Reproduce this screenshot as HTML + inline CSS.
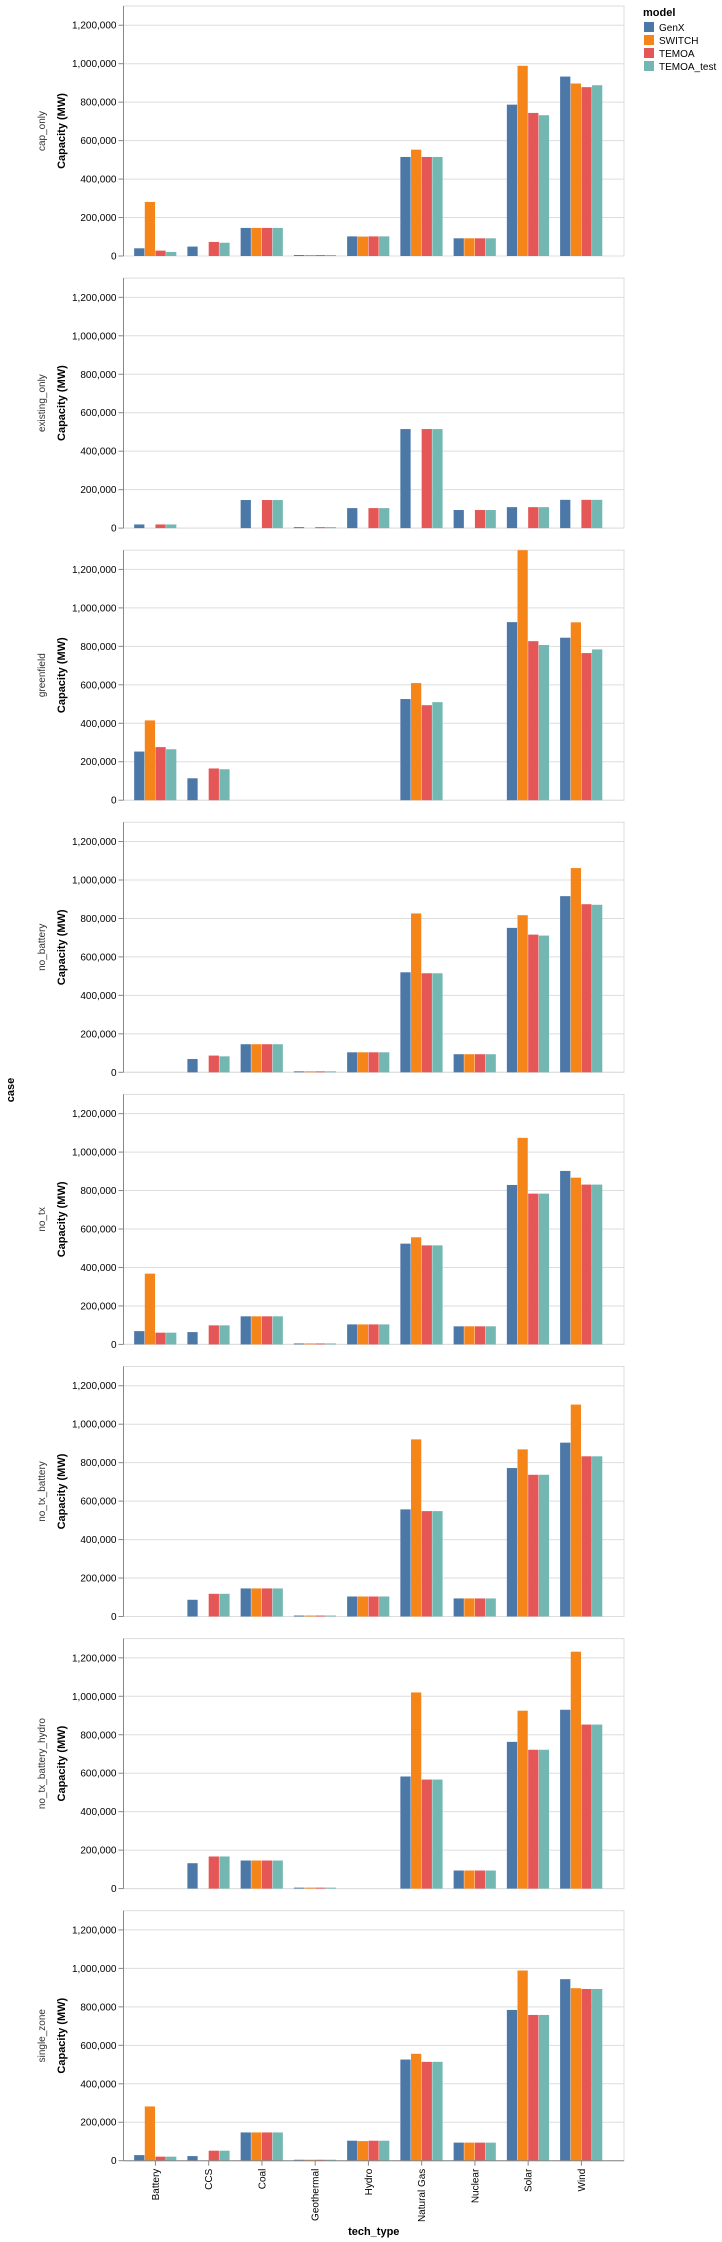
<!DOCTYPE html>
<html><head><meta charset="utf-8"><style>
html,body{margin:0;padding:0;background:#fff;}
svg{display:block;font-family:"Liberation Sans",Arial,sans-serif;}
</style></head><body>
<svg id="chart" width="722" height="2242" viewBox="0 0 722 2242" xmlns="http://www.w3.org/2000/svg"></svg>
<script>
const categories = ["Battery","CCS","Coal","Geothermal","Hydro","Natural Gas","Nuclear","Solar","Wind"];
const models = ["GenX","SWITCH","TEMOA","TEMOA_test"];
const colors = ["#4c78a8","#f58518","#e45756","#72b7b2"];
const cases = ["cap_only","existing_only","greenfield","no_battery","no_tx","no_tx_battery","no_tx_battery_hydro","single_zone"];
const yTicks = [0,200000,400000,600000,800000,1000000,1200000];
const yTickLabels = ["0","200,000","400,000","600,000","800,000","1,000,000","1,200,000"];
// values in MW, per case: [GenX, SWITCH, TEMOA, TEMOA_test] per category
const capOnly = [[40000,281000,28000,21000],[49000,0,73000,69000],[146000,146000,146000,146000],[5000,5000,5000,5000],[102000,101000,102000,102000],[515000,553000,515000,515000],[92000,92000,92000,92000],[787000,989000,744000,732000],[933000,897000,878000,888000]];
const existingOnly = [[19000,0,19000,19000],[0,0,0,0],[146000,0,146000,146000],[5000,0,5000,5000],[104000,0,104000,104000],[515000,0,515000,515000],[94000,0,94000,94000],[109000,0,109000,109000],[147000,0,147000,147000]];
const greenfield = [[253000,415000,276000,265000],[114000,0,165000,161000],[0,0,0,0],[0,0,0,0],[0,0,0,0],[526000,609000,494000,510000],[0,0,0,0],[926000,1300000,827000,807000],[845000,925000,765000,784000]];
const noBattery = [[0,0,0,0],[69000,0,87000,83000],[146000,146000,146000,146000],[5000,5000,5000,5000],[104000,104000,104000,104000],[520000,826000,515000,515000],[94000,94000,94000,94000],[751000,817000,716000,711000],[916000,1062000,874000,871000]];
const noTx = [[69000,368000,61000,61000],[64000,0,99000,99000],[146000,146000,146000,146000],[5000,5000,5000,5000],[104000,104000,104000,104000],[524000,557000,515000,515000],[94000,94000,94000,94000],[829000,1074000,784000,784000],[902000,867000,831000,831000]];
const noTxBattery = [[0,0,0,0],[87000,0,118000,118000],[146000,146000,146000,146000],[5000,5000,5000,5000],[104000,104000,104000,104000],[557000,921000,548000,548000],[94000,94000,94000,94000],[772000,869000,737000,737000],[904000,1102000,833000,833000]];
const noTxBatteryHydro = [[0,0,0,0],[132000,0,167000,167000],[146000,146000,146000,146000],[5000,5000,5000,5000],[0,0,0,0],[583000,1020000,567000,567000],[94000,94000,94000,94000],[763000,925000,722000,722000],[930000,1232000,853000,853000]];
const singleZone = [[29000,282000,21000,21000],[24000,0,52000,52000],[147000,147000,147000,147000],[5000,5000,5000,5000],[104000,102000,104000,104000],[526000,556000,514000,514000],[94000,94000,94000,94000],[784000,989000,758000,758000],[944000,897000,893000,893000]];
const caseValues = [capOnly,existingOnly,greenfield,noBattery,noTx,noTxBattery,noTxBatteryHydro,singleZone];

const NS="http://www.w3.org/2000/svg";
const svg=document.getElementById('chart');
function mk(tag,attrs,parent,text){const e=document.createElementNS(NS,tag);for(const k in attrs)e.setAttribute(k,attrs[k]);if(text!==undefined)e.textContent=text;(parent||svg).appendChild(e);return e;}
const X0=123.5,X1=624,PH=250,PSTEP=272.1,PTOP=6,YMAX=1300000;
const step=(X1-X0)/(categories.length+0.4);
const bandStart=i=>X0+0.2*step+i*step;
const bandW=0.8*step;
const subW=bandW/models.length;
function yScale(v,top){return top+PH-Math.min(v,YMAX)/YMAX*PH;}

cases.forEach((cs,pi)=>{
  const top=PTOP+pi*PSTEP;
  const g=mk('g',{});
  
  
  const frame=mk('rect',{x:X0,y:top,width:X1-X0,height:PH,fill:'none',stroke:'#ddd'},g);
  
  
  yTicks.forEach((t,ti)=>{
    const y=yScale(t,top);
    const gl=mk('line',{x1:X0,x2:X1,y1:y,y2:y,stroke:'#ddd'},g);
    
    
    mk('line',{x1:X0-5,x2:X0,y1:y,y2:y,stroke:'#888'},g);
    const tl=mk('text',{x:X0-7,y:y+3.5,'text-anchor':'end','font-size':'10',fill:'#000'},g,yTickLabels[ti]);
    
    
  });
  mk('line',{x1:X0,x2:X0,y1:top,y2:top+PH,stroke:'#888'},g);
  const cy=top+PH/2;
  const cl=mk('text',{x:0,y:0,transform:`translate(45,${cy}) rotate(-90)`,'text-anchor':'middle','font-size':'10',fill:'#333'},g,cs);
  
  
  const yt=mk('text',{x:0,y:0,transform:`translate(65,${cy}) rotate(-90)`,'text-anchor':'middle','font-size':'11','font-weight':'bold',fill:'#000'},g,'Capacity (MW)');
  
  
  const vals=caseValues[pi];
  categories.forEach((c,ci)=>{
    models.forEach((m,mi)=>{
      const v=vals[ci][mi];
      if(!v)return;
      const y=yScale(v,top);
      const r=mk('rect',{x:bandStart(ci)+mi*subW,y:y,width:subW-0.4,height:top+PH-y,fill:colors[mi]},g);
      
      
    });
  });
  if(pi===cases.length-1){
    mk('line',{x1:X0,x2:X1,y1:top+PH,y2:top+PH,stroke:'#888'},g);
    categories.forEach((c,ci)=>{
      const cx=bandStart(ci)+bandW/2;
      mk('line',{x1:cx,x2:cx,y1:top+PH,y2:top+PH+5,stroke:'#888'},g);
      const xl=mk('text',{x:0,y:0,transform:`translate(${cx+3.5},${top+PH+8}) rotate(-90)`,'text-anchor':'end','font-size':'10',fill:'#000'},g,c);
      
      
    });
    const xt=mk('text',{x:(X0+X1)/2,y:2235,'text-anchor':'middle','font-size':'11','font-weight':'bold'},g,'tech_type');
    
    
  }
});
const ct=mk('text',{x:0,y:0,transform:'translate(14,1090) rotate(-90)','text-anchor':'middle','font-size':'11','font-weight':'bold'},svg,'case');


const lg=mk('g',{});


mk('text',{x:643,y:16,'font-size':'11','font-weight':'bold'},lg,'model');
models.forEach((m,mi)=>{
  const y=22+mi*13;
  const sw=mk('rect',{x:644,y:y,width:10,height:10,fill:colors[mi]},lg);
  
  
  const lt=mk('text',{x:659,y:y+9,'font-size':'10'},lg,m);
  
  
});
</script>
</body></html>
